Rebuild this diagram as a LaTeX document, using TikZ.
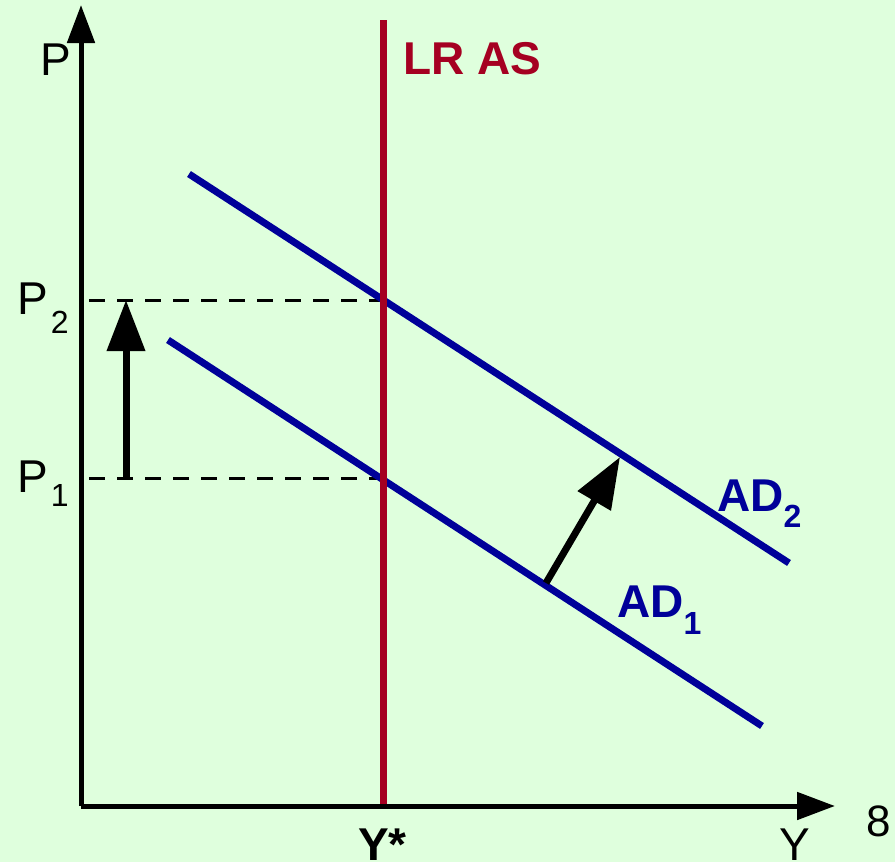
\documentclass[tikz,border=0pt]{standalone}
\usepackage{fontspec}
\setmainfont{Liberation Sans}
\usetikzlibrary{arrows.meta}
\definecolor{bgg}{HTML}{DFFFDD}
\definecolor{asred}{HTML}{A50021}
\definecolor{adblue}{HTML}{000099}
\tikzset{
  axisline/.style={line width=5pt, -{Triangle[length=38pt,width=27pt]}},
  asline/.style={line width=7pt, asred},
  adline/.style={line width=7pt, adblue},
  guide/.style={line width=3pt, dash pattern=on 16pt off 12pt},
  movearrow/.style={line width=7pt, -{Triangle[length=51pt,width=37pt]}},
  lbl/.style={inner sep=0pt, anchor=base west, font=\fontsize{46}{46}\selectfont},
  blbl/.style={lbl, font=\fontsize{46}{46}\selectfont\bfseries},
}
\newcommand{\subsc}[2]{\raisebox{#1}{\fontsize{32}{32}\selectfont #2}}
\begin{document}
\begin{tikzpicture}[x=1pt,y=-1pt]
\useasboundingbox[fill=bgg] (0,0) rectangle (895,862);
% coordinates
\coordinate (O) at (81,806);
\coordinate (Ptop) at (81,5);
\coordinate (Yend) at (835,806);
\coordinate (ASbot) at (383,806);
\coordinate (AStop) at (383,20);
\coordinate (AD2a) at (189,174);
\coordinate (AD2b) at (789,563);
\coordinate (AD1a) at (168,340);
\coordinate (AD1b) at (762,726);
\coordinate (P2L) at (89,300);
\coordinate (P2R) at (383,300);
\coordinate (P1L) at (89,478);
\coordinate (P1R) at (383,478);
\coordinate (UpA) at (126,478);
\coordinate (UpB) at (126,300);
\coordinate (ShA) at (546,583);
\coordinate (ShB) at (620,457);
% lines
\draw[guide] (P2L) -- (P2R);
\draw[guide] (P1L) -- (P1R);
\draw[adline] (AD2a) -- (AD2b);
\draw[adline] (AD1a) -- (AD1b);
\draw[asline] (ASbot) -- (AStop);
\draw[axisline] (O) -- (Ptop);
\draw[axisline] (O) -- (Yend);
\draw[movearrow] (UpA) -- (UpB);
\draw[movearrow] (ShA) -- (ShB);
% labels
\node[lbl] (lp) at (40,75) {P};
\node[lbl] (lp2) at (17,314) {P\hspace{3pt}\subsc{-19pt}{2}};
\node[lbl] (lp1) at (17,492) {P\hspace{3pt}\subsc{-14pt}{1}};
\node[blbl, text=asred] (las) at (403,74) {LR AS};
\node[blbl, text=adblue] (lad2) at (717,511) {AD\subsc{-16pt}{2}};
\node[blbl, text=adblue] (lad1) at (617,617) {AD\subsc{-17pt}{1}};
\node[blbl] (lys) at (358,860) {Y*};
\node[lbl] (ly) at (779,860) {Y};
\node[lbl, font=\fontsize{44}{44}\selectfont] (l8) at (866,836) {8};
\end{tikzpicture}
\end{document}
